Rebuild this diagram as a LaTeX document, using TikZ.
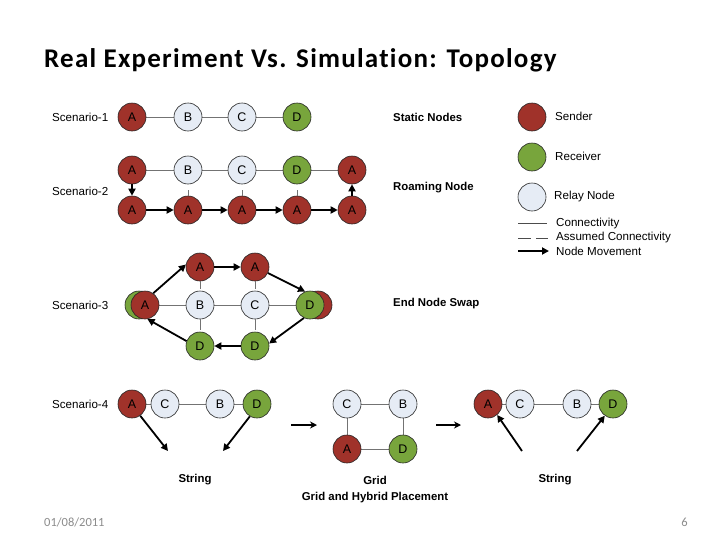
\documentclass[tikz,border=0pt]{standalone}
\usepackage{fontspec}
\setmainfont{Liberation Sans}
\newfontfamily\titlefont[Ligatures={NoCommon}]{Carlito}
\newfontfamily\titlefontsp[Ligatures={NoCommon},LetterSpace=4.6]{Carlito}
\usetikzlibrary{arrows.meta}
\definecolor{sndred}{HTML}{A0322A}
\definecolor{rcvgreen}{HTML}{78A53C}
\definecolor{relay}{HTML}{E6ECF5}
\definecolor{footgray}{HTML}{8C8C8C}
\tikzset{
  nd/.style={circle, draw=black!85, line width=0.6pt, minimum size=28pt, inner sep=0pt, font=\fontsize{12.5}{12.5}\selectfont},
  snd/.style={nd, fill=sndred},
  rcv/.style={nd, fill=rcvgreen},
  rly/.style={nd, fill=relay},
  conn/.style={draw=black!55, line width=0.8pt},
  mv/.style={line width=1.8pt, -{Triangle[length=7pt,width=7pt]}},
  smallarr/.style={line width=1.4pt, -{Stealth[length=7pt,width=7pt]}},
  lbl/.style={font=\fontsize{11.6}{13}\selectfont, anchor=west, inner sep=0pt},
  blbl/.style={font=\fontsize{11.4}{13}\selectfont\bfseries, inner sep=0pt},
}
\begin{document}
\begin{tikzpicture}[x=1pt,y=-1pt]
\useasboundingbox[fill=white] (0,0) rectangle (728,546);
% title and footer
\node[anchor=base west, inner sep=0pt, font=\titlefontsp\fontsize{27}{30}\selectfont\bfseries] (title) at (44,67) {Real Experiment Vs. Simulation: Topology};
\node[anchor=base west, inner sep=0pt, text=footgray, font=\titlefont\fontsize{12.5}{14}\selectfont] (date) at (44,526) {01/08/2011};
\node[anchor=base east, inner sep=0pt, text=footgray, font=\titlefont\fontsize{12.5}{14}\selectfont] (pg) at (688,526) {6};

% scenario labels
\node[lbl] (s1) at (52,117) {Scenario-1};
\node[lbl] (s2) at (52,191) {Scenario-2};
\node[lbl] (s3) at (52,305) {Scenario-3};
\node[lbl] (s4) at (52,404) {Scenario-4};

% scenario 1
\draw[conn] (132,117) -- (297,117);
\node[snd] (a1) at (132,117) {A};
\node[rly] (b1) at (188,117) {B};
\node[rly] (c1) at (242,117) {C};
\node[rcv] (d1) at (297,117) {D};
\node[blbl, anchor=west] (static) at (393,117) {Static Nodes};

% scenario 2
\draw[conn] (132,170) -- (352,170);
\node[snd] (a2t) at (132,170) {A};
\node[rly] (b2t) at (188,170) {B};
\node[rly] (c2t) at (242,170) {C};
\node[rcv] (d2t) at (297,170) {D};
\node[snd] (e2t) at (352,170) {A};
\node[snd] (a2b) at (132,210) {A};
\node[snd] (b2b) at (188,210) {A};
\node[snd] (c2b) at (242,210) {A};
\node[snd] (d2b) at (297,210) {A};
\node[snd] (e2b) at (352,210) {A};
\draw[conn] (b2b.north) -- ++(0,-6);
\draw[conn] (c2b.north) -- ++(0,-6);
\draw[conn] (d2b.north) -- ++(0,-6);
\draw[mv] (a2t.south) -- (a2b.north);
\draw[mv] (e2b.north) -- (e2t.south);
\draw[mv] (a2b.east) -- (b2b.west);
\draw[mv] (b2b.east) -- (c2b.west);
\draw[mv] (c2b.east) -- (d2b.west);
\draw[mv] (d2b.east) -- (e2b.west);
\node[blbl, anchor=west] (roam) at (393,188) {Roaming Node};

% scenario 3
\node[rcv] (la3g) at (139,305) {};
\node[snd] (rd3r) at (318,305) {};
\draw[conn] (145,305) -- (310,305);
\node[snd] (la3) at (145,305) {A};
\node[rly] (b3) at (200,305) {B};
\node[rly] (c3) at (255,305) {C};
\node[rcv] (rd3) at (310,305) {D};
\node[snd] (ta1) at (200,267) {A};
\node[snd] (ta2) at (255,267) {A};
\node[rcv] (bd1) at (200,346) {D};
\node[rcv] (bd2) at (255,346) {D};
\draw[conn] (ta1.south) -- ++(0,8);
\draw[conn] (ta2.south) -- ++(0,8);
\draw[conn] (b3.south) -- ++(0,11);
\draw[conn] (c3.south) -- ++(0,11);
\draw[mv] (la3.55) -- (ta1.170);
\draw[mv] (ta1.east) -- (ta2.west);
\draw[mv] (ta2.-25) -- (rd3.110);
\draw[mv] (rd3.-115) -- (bd2.10);
\draw[mv] (bd2.west) -- (bd1.east);
\draw[mv] (bd1.160) -- (la3.-80);
\node[blbl, anchor=west] (swap) at (393,304) {End Node Swap};

% scenario 4 - string
\draw[conn] (132,404) -- (257,404);
\node[snd] (a4) at (132,404) {A};
\node[rly] (c4) at (165,404) {C};
\node[rly] (b4) at (220,404) {B};
\node[rcv] (d4) at (257,404) {D};
\coordinate (a4e) at (168,451);
\coordinate (d4e) at (223,451);
\draw[mv] (a4.-55) -- (a4e);
\draw[mv] (d4.-120) -- (d4e);
\node[blbl] (str1) at (195,480) {String};

\coordinate (ar1s) at (291,425);
\coordinate (ar1e) at (317,425);
\draw[smallarr] (ar1s) -- (ar1e);

% grid
\draw[conn] (347,404) rectangle (403,449);
\node[rly] (cg) at (347,404) {C};
\node[rly] (bg) at (403,404) {B};
\node[snd] (ag) at (347,449) {A};
\node[rcv] (dg) at (403,449) {D};
\node[blbl] (gridl) at (375,480) {Grid};
\node[blbl] (ghp) at (375,498) {Grid and Hybrid Placement};

\coordinate (ar2s) at (436,425);
\coordinate (ar2e) at (461,425);
\draw[smallarr] (ar2s) -- (ar2e);

% right string
\draw[conn] (488,404) -- (613,404);
\node[snd] (a5) at (488,404) {A};
\node[rly] (c5) at (520,404) {C};
\node[rly] (b5) at (577,404) {B};
\node[rcv] (d5) at (613,404) {D};
\coordinate (a5s) at (522,451);
\coordinate (d5s) at (577,451);
\draw[mv] (a5s) -- (a5.-50);
\draw[mv] (d5s) -- (d5.-125);
\node[blbl] (str2) at (555,480) {String};

% legend
\node[snd] (lsnd) at (532,117) {};
\node[rcv] (lrcv) at (532,157) {};
\node[rly] (lrly) at (532,197) {};
\node[lbl] (tsnd) at (555,116) {Sender};
\node[lbl] (trcv) at (555,156) {Receiver};
\node[lbl] (trly) at (554,196) {Relay Node};
\coordinate (lc1) at (518,223);
\coordinate (lc2) at (547,223);
\draw[conn, draw=black!70] (lc1) -- (lc2);
\node[lbl] (tc) at (556,223) {Connectivity};
\coordinate (ld1) at (518,238);
\coordinate (ld2) at (548,238);
\draw[conn, draw=black!70, dash pattern=on 13pt off 5pt] (ld1) -- (ld2);
\node[lbl] (td) at (556,237) {Assumed Connectivity};
\coordinate (lm1) at (518,251);
\coordinate (lm2) at (549,251);
\draw[mv] (lm1) -- (lm2);
\node[lbl] (tm) at (556,251) {Node Movement};
\end{tikzpicture}
\end{document}
